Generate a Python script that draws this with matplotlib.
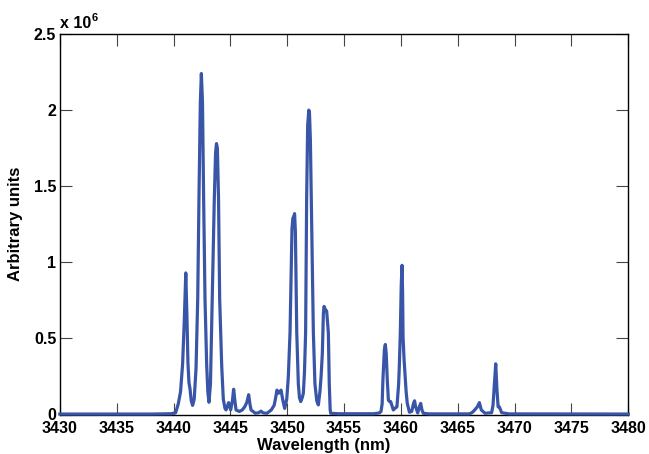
import numpy as np
import matplotlib
matplotlib.use("Agg")
import matplotlib.pyplot as plt

# spectrum (wavelength in nm, intensity in units of 1e6)
wavelength = [
    3430.0, 3438.0, 3439.8, 3440.19, 3440.42, 3440.62, 3440.80, 3440.95, 3441.08,
    3441.18, 3441.27, 3441.36, 3441.45, 3441.56, 3441.68,
    3441.82, 3441.98, 3442.13, 3442.24, 3442.36, 3442.45, 3442.55, 3442.65, 3442.77,
    3442.92, 3443.02, 3443.12,
    3443.25, 3443.41, 3443.59, 3443.70, 3443.78, 3443.86, 3443.96, 3444.06, 3444.24,
    3444.38, 3444.53,
    3444.62, 3444.85, 3445.03, 3445.18, 3445.29, 3445.40, 3445.50, 3445.79, 3446.05,
    3446.26, 3446.45, 3446.61, 3446.72, 3446.82, 3447.20, 3447.50, 3447.70, 3447.90,
    3448.22, 3448.60, 3448.85, 3448.96, 3449.10, 3449.25, 3449.35, 3449.46, 3449.60,
    3449.78,
    3449.96, 3450.10, 3450.25, 3450.33, 3450.42, 3450.50, 3450.57, 3450.65, 3450.72,
    3450.84, 3450.98, 3451.08, 3451.19,
    3451.32, 3451.42, 3451.52, 3451.62, 3451.71, 3451.80, 3451.90, 3451.96, 3452.04,
    3452.12, 3452.30, 3452.44, 3452.60, 3452.74,
    3452.88, 3452.98, 3453.09, 3453.18, 3453.24, 3453.35, 3453.47, 3453.62, 3453.70,
    3453.78, 3453.83,
    3454.50, 3457.60, 3458.10, 3458.25, 3458.35, 3458.42, 3458.55, 3458.63, 3458.71,
    3458.80, 3458.90, 3459.00, 3459.10, 3459.33, 3459.55, 3459.65, 3459.80, 3459.86,
    3459.95, 3460.03, 3460.10, 3460.15, 3460.19, 3460.28, 3460.36, 3460.46, 3460.56,
    3460.75, 3460.95, 3461.10, 3461.20, 3461.30, 3461.48, 3461.62, 3461.74, 3461.85,
    3461.97,
    3462.50, 3466.00, 3466.20, 3466.37, 3466.60, 3466.72, 3466.90, 3467.07, 3467.40,
    3467.98, 3468.10, 3468.19, 3468.34, 3468.45, 3468.55, 3468.66, 3468.77, 3468.86,
    3469.50, 3480.0,
]
intensity = [
    0.003, 0.003, 0.005, 0.012, 0.07, 0.15, 0.33, 0.62, 0.93,
    0.65, 0.34, 0.21, 0.17, 0.09, 0.06,
    0.10, 0.30, 0.76, 1.42, 2.05, 2.24, 2.05, 1.42, 0.76,
    0.32, 0.15, 0.08,
    0.20, 0.76, 1.42, 1.72, 1.78, 1.75, 1.42, 0.76, 0.32,
    0.10, 0.04,
    0.03, 0.078, 0.03, 0.09, 0.166, 0.09, 0.03, 0.02, 0.03,
    0.05, 0.08, 0.13, 0.07, 0.03, 0.008, 0.012, 0.022, 0.01,
    0.008, 0.03, 0.06, 0.10, 0.16, 0.14, 0.15, 0.16, 0.10,
    0.04,
    0.10, 0.25, 0.54, 0.85, 1.22, 1.29, 1.30, 1.32, 1.20,
    0.54, 0.20, 0.11, 0.085,
    0.11, 0.14, 0.28, 0.54, 1.42, 1.90, 2.00, 1.98, 1.80,
    1.42, 0.54, 0.20, 0.09, 0.063,
    0.15, 0.25, 0.40, 0.66, 0.71, 0.69, 0.68, 0.536, 0.20,
    0.03, 0.008,
    0.005, 0.005, 0.01, 0.02, 0.07, 0.23, 0.43, 0.46, 0.40,
    0.23, 0.095, 0.085, 0.085, 0.03, 0.045, 0.05, 0.20, 0.315,
    0.54, 0.85, 0.98, 0.80, 0.51, 0.36, 0.27, 0.15, 0.074,
    0.015, 0.02, 0.07, 0.09, 0.05, 0.01, 0.05, 0.073, 0.03,
    0.008,
    0.004, 0.004, 0.01, 0.02, 0.04, 0.05, 0.078, 0.03, 0.008,
    0.012, 0.06, 0.16, 0.333, 0.16, 0.05, 0.05, 0.03, 0.012,
    0.004, 0.003,
]
x_ticks = [3430, 3435, 3440, 3445, 3450, 3455, 3460, 3465, 3470, 3475, 3480]
y_ticks = [0, 0.5e6, 1e6, 1.5e6, 2e6, 2.5e6]
y_tick_labels = ["0", "0.5", "1", "1.5", "2", "2.5"]

plt.rcParams['font.family'] = ['Liberation Sans', 'DejaVu Sans']
plt.rcParams['font.weight'] = 'bold'

W, H = 649, 454
fig = plt.figure(figsize=(W / 100, H / 100), dpi=100)
left, right, top, bottom = 59.8, 628.3, 34.0, 414.5
ax = fig.add_axes([left / W, (H - bottom) / H, (right - left) / W, (bottom - top) / H])

ax.plot(wavelength, np.array(intensity) * 1e6, color="#3955a8", lw=2.3,
        solid_joinstyle="round", clip_on=False, zorder=5)

ax.set_xlim(3430, 3480)
ax.set_ylim(0, 2.5e6)
ax.set_xticks(x_ticks)
ax.set_xticklabels([str(t) for t in x_ticks])
ax.set_yticks(y_ticks)
ax.set_yticklabels(y_tick_labels)

ax.tick_params(direction="in", length=8.5, width=0.8, color="#444444",
               top=True, right=True, labelsize=11.5)
ax.tick_params(axis="x", pad=4.5)
ax.tick_params(axis="y", pad=2.5)
for s in ax.spines.values():
    s.set_linewidth(1.0)
    s.set_color("black")

ax.set_xlabel("Wavelength (nm)", fontsize=12, fontweight="bold")
ax.set_ylabel("Arbitrary units", fontsize=12, fontweight="bold")
ax.xaxis.set_label_coords(0.465, -0.061)
ax.yaxis.set_label_coords(-0.0656, 0.5)

# exponent label like MATLAB
fig.text(60 / W, (H - 28) / H, "x 10", fontsize=11.5, fontweight="bold", va="baseline")
fig.text(92 / W, (H - 21) / H, "6", fontsize=8, fontweight="bold", va="baseline")

fig.savefig("out.png", dpi=100)
